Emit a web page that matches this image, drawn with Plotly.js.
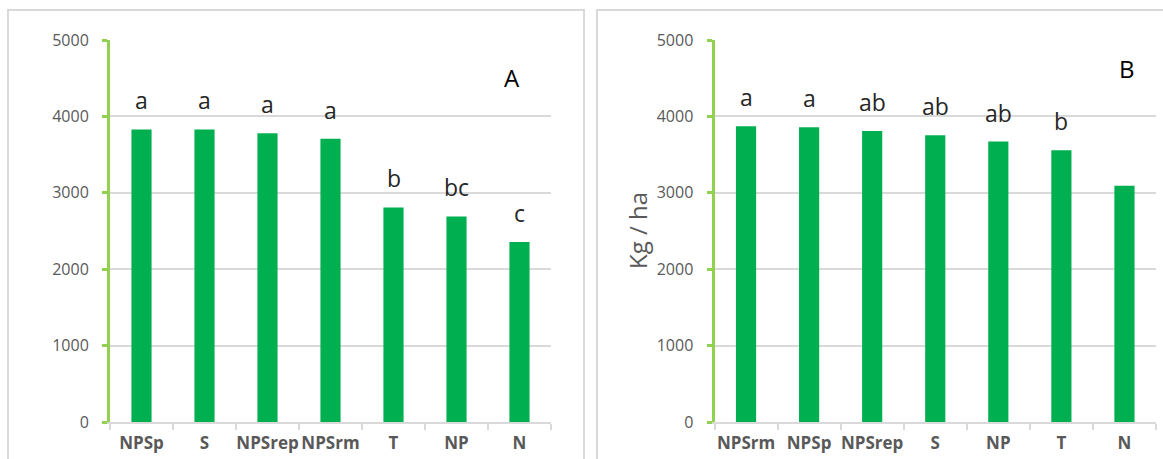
<!DOCTYPE html>
<html>
<head>
<meta charset="utf-8">
<script src="https://cdn.plot.ly/plotly-3.0.1.min.js"></script>
<style>html,body{margin:0;padding:0;background:#fff;}#chart{width:1163px;height:459px;}</style>
</head>
<body>
<div id="chart"></div>
<script>
// Panel A data
const categoriesA = ["NPSp", "S", "NPSrep", "NPSrm", "T", "NP", "N"];
const valuesA = [3830, 3830, 3778, 3708, 2808, 2690, 2355];
const lettersA = ["a", "a", "a", "a", "b", "bc", "c"];
// Panel B data
const categoriesB = ["NPSrm", "NPSp", "NPSrep", "S", "NP", "T", "N"];
const valuesB = [3872, 3858, 3810, 3753, 3670, 3557, 3092];
const lettersB = ["a", "a", "ab", "ab", "ab", "b", ""];
const panelLabels = ["A", "B"];
const yTitleB = "Kg / ha";

const W = 1163, H = 459;
const px = v => v / W, py = v => 1 - v / H;

const barColor = "#00B050";
const font = "Open Sans, Noto Sans, sans-serif";

const traces = [
  {type: "bar", x: categoriesA, y: valuesA, xaxis: "x", yaxis: "y",
   marker: {color: barColor}, hoverinfo: "x+y", showlegend: false},
  {type: "bar", x: categoriesB, y: valuesB, xaxis: "x2", yaxis: "y2",
   marker: {color: barColor}, hoverinfo: "x+y", showlegend: false}
];

function yAxis(domainY) {
  return {
    domain: domainY, range: [0, 5000], dtick: 1000, tick0: 0,
    showgrid: true, gridcolor: "#D9D9D9", gridwidth: 2, zeroline: false,
    showline: true, linecolor: "#92D050", linewidth: 3,
    ticks: "outside", ticklen: 5, tickwidth: 3, tickcolor: "#92D050",
    ticklabelstandoff: 10,
    tickfont: {family: font, size: 16, color: "#595959"},
    fixedrange: true
  };
}
function xAxis(domainX, anchor) {
  return {
    domain: domainX, anchor: anchor, type: "category",
    showgrid: false, zeroline: false,
    showline: true, linecolor: "#D9D9D9", linewidth: 2,
    ticks: "outside", tickson: "boundaries", ticklen: 6, tickwidth: 2, tickcolor: "#D9D9D9",
    tickangle: 0, ticklabelstandoff: 5,
    tickfont: {family: font, size: 17, color: "#595959", weight: "bold"},
    fixedrange: true
  };
}

const domY = [py(422), py(40)];

const annotations = [];
categoriesA.forEach((c, i) => {
  if (lettersA[i]) annotations.push({xref: "x", yref: "y", x: c, y: valuesA[i], text: lettersA[i],
    showarrow: false, yanchor: "middle", yshift: 29, font: {family: font, size: 23, color: "#262626"}});
});
categoriesB.forEach((c, i) => {
  if (lettersB[i]) annotations.push({xref: "x2", yref: "y2", x: c, y: valuesB[i], text: lettersB[i],
    showarrow: false, yanchor: "middle", yshift: 29, font: {family: font, size: 23, color: "#262626"}});
});
annotations.push({xref: "paper", yref: "paper", x: px(512), y: py(77), text: panelLabels[0],
  showarrow: false, xanchor: "center", yanchor: "middle", font: {family: font, size: 24, color: "#000"}});
annotations.push({xref: "paper", yref: "paper", x: px(1127), y: py(68), text: panelLabels[1],
  showarrow: false, xanchor: "center", yanchor: "middle", font: {family: font, size: 24, color: "#000"}});
annotations.push({xref: "paper", yref: "paper", x: px(637), y: py(231), text: yTitleB, textangle: -90,
  showarrow: false, xanchor: "center", yanchor: "middle", font: {family: font, size: 24, color: "#595959"}});

const layout = {
  width: W, height: H,
  margin: {l: 0, r: 0, t: 0, b: 0},
  paper_bgcolor: "#fff", plot_bgcolor: "#fff",
  bargap: 0.68,
  showlegend: false,
  xaxis: xAxis([px(110), px(551)], "y"),
  yaxis: Object.assign(yAxis(domY), {anchor: "x"}),
  xaxis2: xAxis([px(714.5), px(1156)], "y2"),
  yaxis2: Object.assign(yAxis(domY), {anchor: "x2"}),
  annotations: annotations,
  shapes: [
    {type: "rect", xref: "paper", yref: "paper", x0: px(8), x1: px(584), y0: py(475), y1: py(10),
     line: {color: "#D9D9D9", width: 2}, layer: "below"},
    {type: "rect", xref: "paper", yref: "paper", x0: px(597), x1: px(1175), y0: py(475), y1: py(10),
     line: {color: "#D9D9D9", width: 2}, layer: "below"}
  ]
};

Plotly.newPlot("chart", traces, layout, {displayModeBar: false, staticPlot: true});
</script>
</body>
</html>
